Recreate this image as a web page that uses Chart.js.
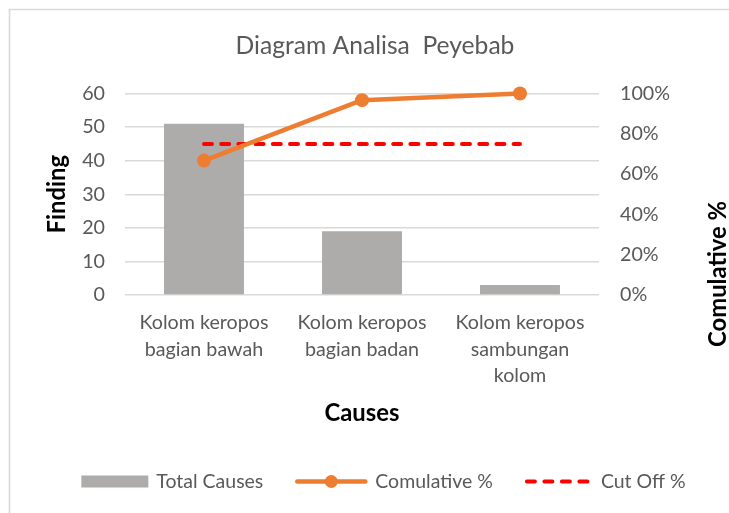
<!DOCTYPE html>
<html>
<head>
<meta charset="utf-8">
<script src="https://cdn.jsdelivr.net/npm/chart.js@4/dist/chart.umd.min.js"></script>
<style>
  html, body { margin: 0; padding: 0; background: #ffffff; }
  #wrap { position: relative; width: 729px; height: 513px; }
</style>
</head>
<body>
<div id="wrap"><canvas id="c"></canvas></div>
<script>
// ---- data ----
const categories = [
  ["Kolom keropos", "bagian bawah"],
  ["Kolom keropos", "bagian badan"],
  ["Kolom keropos", "sambungan", "kolom"]
];
const totalCauses = [51, 19, 3];
const cumulativePct = [66.7, 96.7, 100];
const cutOffPct = [75, 75, 75];
const seriesNames = ["Total Causes", "Comulative %", "Cut Off %"];
const chartTitle = "Diagram Analisa  Peyebab";
const xTitle = "Causes";
const yLeftTitle = "Finding";
const yRightTitle = "Comulative %";

// ---- style ----
const FONT = "Lato";
const GREY_TEXT = "#595959";
const GRID = "#D9D9D9";
const BAR = "#AEABAB";
const ORANGE = "#ED7D31";
const RED = "#FF0000";

function fitSize(text, weight, target) {
  const c = document.createElement("canvas").getContext("2d");
  c.font = weight + " 100px " + FONT;
  return +(100 * target / c.measureText(text).width).toFixed(2);
}
const tickSize = fitSize("Kolom keropos", 400, 129);
const legendSize = fitSize("Total Causes", 400, 107);
const axisTitleSize = fitSize("Causes", 700, 75);
const titleSize = fitSize(chartTitle, 400, 279);

// layout targets
const PLOT_TOP = 93.5, PLOT_BOTTOM = 295, PLOT_LEFT = 125, PLOT_RIGHT = 599;
const TITLE_CY = 46, XTITLE_CY = 413, LEFT_TITLE_CX = 57;
const PAD_LEFT = 21;
const titleLH = titleSize * 1.2;
const axisLH = axisTitleSize * 1.2;
const xAxisBottom = XTITLE_CY + axisLH / 2;

const borderPlugin = {
  id: "frame",
  beforeDraw(chart) {
    const ctx = chart.ctx;
    ctx.save();
    ctx.strokeStyle = GRID;
    ctx.lineWidth = 1.6;
    ctx.beginPath();
    ctx.moveTo(9.5, chart.height);
    ctx.lineTo(9.5, 9.5);
    ctx.lineTo(chart.width, 9.5);
    ctx.stroke();
    ctx.restore();
  }
};

const extrasPlugin = {
  id: "extras",
  afterDraw(chart) {
    const ctx = chart.ctx;
    ctx.save();
    // right axis title (reads bottom-to-top)
    ctx.translate(718, 274);
    ctx.rotate(-Math.PI / 2);
    ctx.font = "700 " + axisTitleSize + "px " + FONT;
    ctx.fillStyle = "#000000";
    ctx.textAlign = "center";
    ctx.textBaseline = "middle";
    ctx.fillText(yRightTitle, 0, 0);
    ctx.restore();

    // legend
    ctx.save();
    ctx.font = legendSize + "px " + FONT;
    const ds = chart.data.datasets;
    const symW = [67, 72, 68];
    const gap = 8, spacing = 32;
    const widths = ds.map((d, i) => symW[i] + gap + ctx.measureText(d.label).width);
    const total = widths.reduce((a, b) => a + b, 0) + spacing * (ds.length - 1);
    let x = 383.5 - total / 2;
    const y = 481.5;
    ds.forEach((d, i) => {
      if (i === 0) {
        ctx.fillStyle = d.backgroundColor;
        ctx.fillRect(x, y - 6, symW[i], 12);
      } else if (i === 1) {
        ctx.strokeStyle = d.borderColor;
        ctx.lineWidth = 4.5;
        ctx.lineCap = "round";
        ctx.setLineDash([]);
        ctx.beginPath();
        ctx.moveTo(x + 2, y);
        ctx.lineTo(x + symW[i] - 2, y);
        ctx.stroke();
        ctx.fillStyle = d.borderColor;
        ctx.beginPath();
        ctx.arc(x + symW[i] / 2, y, 6.5, 0, Math.PI * 2);
        ctx.fill();
      } else {
        ctx.strokeStyle = d.borderColor;
        ctx.lineWidth = 4;
        ctx.lineCap = "round";
        ctx.setLineDash([8, 9.5]);
        ctx.beginPath();
        ctx.moveTo(x + 2, y);
        ctx.lineTo(x + symW[i] - 2, y);
        ctx.stroke();
        ctx.setLineDash([]);
      }
      ctx.fillStyle = GREY_TEXT;
      ctx.textAlign = "left";
      ctx.textBaseline = "middle";
      ctx.fillText(d.label, x + symW[i] + gap, y);
      x += widths[i] + spacing;
    });
    ctx.restore();
  }
};

new Chart(document.getElementById("c"), {
  type: "bar",
  data: {
    labels: categories,
    datasets: [
      {
        type: "bar",
        label: seriesNames[0],
        data: totalCauses,
        backgroundColor: BAR,
        borderWidth: 0,
        yAxisID: "y",
        categoryPercentage: 1,
        barPercentage: 0.506,
        order: 3
      },
      {
        type: "line",
        label: seriesNames[1],
        data: cumulativePct,
        borderColor: ORANGE,
        backgroundColor: ORANGE,
        borderWidth: 4.5,
        borderCapStyle: "round",
        borderJoinStyle: "round",
        pointRadius: 7,
        pointBorderWidth: 0,
        pointBackgroundColor: ORANGE,
        tension: 0,
        clip: false,
        yAxisID: "y2",
        order: 1
      },
      {
        type: "line",
        label: seriesNames[2],
        data: cutOffPct,
        borderColor: RED,
        backgroundColor: RED,
        borderWidth: 4,
        borderDash: [8, 9.2],
        borderCapStyle: "round",
        pointRadius: 0,
        tension: 0,
        clip: false,
        yAxisID: "y2",
        order: 2
      }
    ]
  },
  options: {
    responsive: true,
    maintainAspectRatio: false,
    animation: false,
    events: [],
    layout: {
      padding: { left: PAD_LEFT, right: 0, top: TITLE_CY - titleLH / 2, bottom: 513 - xAxisBottom }
    },
    plugins: {
      legend: { display: false },
      tooltip: { enabled: false },
      title: {
        display: true,
        text: chartTitle,
        color: GREY_TEXT,
        font: { family: FONT, size: titleSize, weight: "400", lineHeight: 1.2 },
        padding: { top: 0, bottom: PLOT_TOP - (TITLE_CY + titleLH / 2) }
      }
    },
    scales: {
      x: {
        offset: true,
        grid: { display: false, drawTicks: false },
        border: { display: false },
        ticks: {
          color: GREY_TEXT,
          font: { family: FONT, size: tickSize, lineHeight: 26.5 / tickSize },
          padding: 14.75,
          maxRotation: 0,
          autoSkip: false
        },
        title: {
          display: true,
          text: xTitle,
          color: "#000000",
          font: { family: FONT, size: axisTitleSize, weight: "700", lineHeight: 1.2 },
          padding: { top: 0, bottom: 0 }
        },
        afterFit(s) { s.height = xAxisBottom - PLOT_BOTTOM; }
      },
      y: {
        position: "left",
        min: 0,
        max: 60,
        ticks: {
          stepSize: 10,
          color: GREY_TEXT,
          font: { family: FONT, size: tickSize },
          padding: 20
        },
        grid: { color: GRID, lineWidth: 1.5, drawTicks: false },
        border: { display: false },
        title: {
          display: true,
          text: yLeftTitle,
          color: "#000000",
          font: { family: FONT, size: axisTitleSize, weight: "700", lineHeight: 1.2 },
          padding: { top: LEFT_TITLE_CX - PAD_LEFT - axisLH / 2, bottom: 0 }
        },
        afterFit(s) { s.width = PLOT_LEFT - PAD_LEFT; }
      },
      y2: {
        position: "right",
        min: 0,
        max: 100,
        ticks: {
          stepSize: 20,
          color: GREY_TEXT,
          font: { family: FONT, size: tickSize },
          padding: 21,
          callback: v => v + "%"
        },
        grid: { display: false, drawTicks: false },
        border: { display: false },
        afterFit(s) { s.width = 729 - PLOT_RIGHT; }
      }
    }
  },
  plugins: [borderPlugin, extrasPlugin]
});
</script>
</body>
</html>
